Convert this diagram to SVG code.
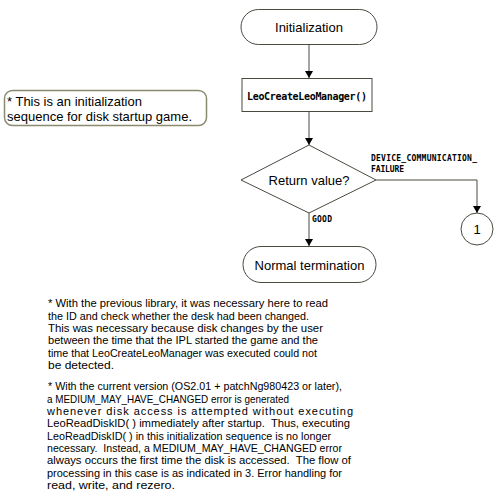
<svg xmlns="http://www.w3.org/2000/svg" width="501" height="498" viewBox="0 0 501 498">
<style>
.shape{fill:#fff;stroke:#4a4a40;stroke-width:1}
.line{fill:none;stroke:#4a4a40;stroke-width:1}
.lbl{font-family:"Liberation Sans",Arial,sans-serif;font-size:13px;fill:#000;text-anchor:middle}
.mono{font-family:"DejaVu Sans Mono","Liberation Mono",monospace;font-weight:bold;fill:#000}
.para{font-family:"Liberation Sans",Arial,sans-serif;font-size:11px;fill:#000;white-space:pre}
.note{font-family:"Liberation Sans",Arial,sans-serif;font-size:13px;fill:#000}
</style>
<defs>
<marker id="arr" markerWidth="8" markerHeight="8" refX="7" refY="4" orient="auto" markerUnits="userSpaceOnUse">
<path d="M0,0 L7,4 L0,8 Z" fill="#000"/>
</marker>
</defs>
<rect width="501" height="498" fill="#fff"/>
<g id="connectors">
<line class="line" x1="309" y1="45" x2="309" y2="78" marker-end="url(#arr)"/>
<line class="line" x1="309" y1="112" x2="309" y2="145" marker-end="url(#arr)"/>
<polyline class="line" points="376,180 477,180 477,213" marker-end="url(#arr)"/>
<line class="line" x1="309" y1="213" x2="309" y2="246" marker-end="url(#arr)"/>
<text class="mono" x="371" y="161" font-size="8" textLength="106">DEVICE_COMMUNICATION_</text>
<text class="mono" x="371" y="172" font-size="8" textLength="33">FAILURE</text>
<text class="mono" x="312" y="222" font-size="8" textLength="20">GOOD</text>
</g>
<g id="init">
<rect class="shape" x="241" y="9.5" width="136" height="35" rx="17.5"/>
<text class="lbl" x="309" y="32">Initialization</text>
</g>
<g id="create">
<rect class="shape" x="242" y="78.5" width="130" height="33"/>
<text class="mono" x="247" y="100" font-size="10" textLength="120">LeoCreateLeoManager()</text>
</g>
<g id="decision">
<polygon class="shape" points="309,145 376,180 309,213 241,180"/>
<text class="lbl" x="309" y="185">Return value?</text>
</g>
<g id="connector1">
<circle class="shape" cx="477" cy="229" r="16"/>
<text class="lbl" x="477" y="234">1</text>
</g>
<g id="end">
<rect class="shape" x="243" y="246.5" width="133" height="36" rx="18"/>
<text class="lbl" x="309.5" y="270">Normal termination</text>
</g>
<g id="note">
<rect x="4.5" y="90.5" width="202" height="35" rx="8" fill="#fff" stroke="#8a8a70" stroke-width="1.5"/>
<text class="note" x="7" y="106">* This is an initialization</text>
<text class="note" x="7" y="121">sequence for disk startup game.</text>
</g>
<g id="para1">
<text class="para" x="48" y="307" textLength="280" lengthAdjust="spacingAndGlyphs">* With the previous library, it was necessary here to read</text>
<text class="para" x="48" y="319.5" textLength="261" lengthAdjust="spacingAndGlyphs">the ID and check whether the desk had been changed.</text>
<text class="para" x="48" y="332" textLength="275" lengthAdjust="spacingAndGlyphs">This was necessary because disk changes by the user</text>
<text class="para" x="48" y="344" textLength="270" lengthAdjust="spacingAndGlyphs">between the time that the IPL started the game and the</text>
<text class="para" x="48" y="356.5" textLength="269" lengthAdjust="spacingAndGlyphs">time that LeoCreateLeoManager was executed could not</text>
<text class="para" x="48" y="369" textLength="66" lengthAdjust="spacingAndGlyphs">be detected.</text>
</g>
<g id="para2">
<text class="para" x="48" y="390" textLength="294" lengthAdjust="spacingAndGlyphs">* With the current version (OS2.01 + patchNg980423 or later),</text>
<text class="para" x="47" y="402.5" textLength="242" lengthAdjust="spacingAndGlyphs">a MEDIUM_MAY_HAVE_CHANGED error is generated</text>
<text class="para" x="47" y="415" textLength="306">whenever disk access is attempted without executing</text>
<text class="para" x="47" y="427" textLength="303" lengthAdjust="spacingAndGlyphs">LeoReadDiskID( ) immediately after startup.  Thus, executing</text>
<text class="para" x="47" y="439.5" textLength="284" lengthAdjust="spacingAndGlyphs">LeoReadDiskID( ) in this initialization sequence is no longer</text>
<text class="para" x="47" y="452" textLength="295" lengthAdjust="spacingAndGlyphs">necessary.  Instead, a MEDIUM_MAY_HAVE_CHANGED error</text>
<text class="para" x="47" y="464" textLength="304" lengthAdjust="spacingAndGlyphs">always occurs the first time the disk is accessed.  The flow of</text>
<text class="para" x="47" y="476.5" textLength="295" lengthAdjust="spacingAndGlyphs">processing in this case is as indicated in 3. Error handling for</text>
<text class="para" x="47" y="489" textLength="128" lengthAdjust="spacingAndGlyphs">read, write, and rezero.</text>
</g>
</svg>
